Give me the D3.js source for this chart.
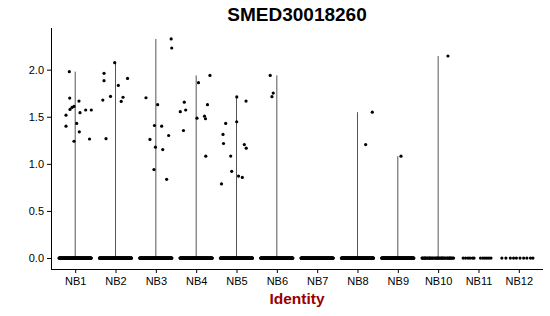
<!DOCTYPE html>
<html>
<head>
<meta charset="utf-8">
<script src="https://cdn.jsdelivr.net/npm/d3@7"></script>
<style>
  body { margin: 0; background: #fff; }
  svg { display: block; font-family: "Liberation Sans", Arial, Helvetica, sans-serif; }
  .axis path, .axis line { stroke: #000; }
  .axis text { fill: #000; font-size: 11px; }
</style>
</head>
<body>
<svg width="550" height="316"></svg>
<script>
// groups shown on the x axis
const groups = ["NB1", "NB2", "NB3", "NB4", "NB5", "NB6", "NB7", "NB8", "NB9", "NB10", "NB11", "NB12"];
const yTicks = [0, 0.5, 1.0, 1.5, 2.0];

// expressing cells: [group, jitter (in group widths), expression value]
const expressed = [
  ["NB1", -0.146, 1.979], ["NB1", -0.136, 1.698], ["NB1", -0.228, 1.517], ["NB1", -0.129, 1.578],
  ["NB1", -0.079, 1.599], ["NB1", -0.030, 1.610], ["NB1", 0.094, 1.666], ["NB1", 0.119, 1.543],
  ["NB1", 0.260, 1.572], ["NB1", 0.399, 1.572], ["NB1", -0.228, 1.400], ["NB1", 0.037, 1.429],
  ["NB1", 0.102, 1.340], ["NB1", -0.030, 1.240], ["NB1", 0.355, 1.264],
  ["NB2", -0.285, 1.961], ["NB2", -0.285, 1.883], ["NB2", -0.020, 2.074], ["NB2", 0.069, 1.833],
  ["NB2", 0.298, 1.907], ["NB2", -0.315, 1.677], ["NB2", -0.124, 1.716], ["NB2", 0.186, 1.707],
  ["NB2", 0.141, 1.663], ["NB2", -0.236, 1.267],
  ["NB3", -0.245, 1.702], ["NB3", 0.045, 1.628], ["NB3", -0.035, 1.407], ["NB3", 0.144, 1.400],
  ["NB3", -0.146, 1.259], ["NB3", -0.010, 1.177], ["NB3", 0.317, 1.301], ["NB3", 0.171, 1.152],
  ["NB3", -0.047, 0.939], ["NB3", 0.268, 0.836], ["NB3", 0.379, 2.326], ["NB3", 0.394, 2.230],
  ["NB4", -0.295, 1.655], ["NB4", -0.394, 1.554], ["NB4", -0.260, 1.572], ["NB4", -0.315, 1.354],
  ["NB4", 0.057, 1.862], ["NB4", 0.342, 1.939], ["NB4", 0.020, 1.485], ["NB4", 0.280, 1.628],
  ["NB4", 0.206, 1.506], ["NB4", 0.231, 1.479], ["NB4", 0.238, 1.081],
  ["NB5", -0.268, 1.429], ["NB5", -0.335, 1.312], ["NB5", -0.322, 1.216], ["NB5", 0.007, 1.711],
  ["NB5", 0.236, 1.666], ["NB5", 0.005, 1.447], ["NB5", -0.144, 1.083], ["NB5", 0.193, 1.205],
  ["NB5", 0.241, 1.166], ["NB5", -0.119, 0.921], ["NB5", 0.050, 0.870], ["NB5", 0.144, 0.856],
  ["NB5", -0.372, 0.787],
  ["NB6", -0.164, 1.939], ["NB6", -0.089, 1.751], ["NB6", -0.121, 1.713],
  ["NB8", 0.367, 1.549], ["NB8", 0.203, 1.205],
  ["NB9", 0.079, 1.081],
  ["NB10", 0.243, 2.145]
];

// cells at zero: estimated counts for the crowded groups
const zeroCounts = [150, 150, 150, 150, 150, 150, 150, 150, 150, 40, 0, 0];
const zeroJitterNB11 = [-0.38, -0.32, -0.26, -0.21, -0.15, -0.11, 0.05, 0.11, 0.16, 0.21, 0.26, 0.31];
const zeroJitterNB12 = [-0.42, -0.32, -0.21, -0.13, -0.06, 0.03, 0.12, 0.20, 0.29, 0.35];

const svg = d3.select("svg");
const margin = { left: 51, right: 7, top: 28, bottom: 47 };
const W = 550, H = 316;

const x = d3.scalePoint()
  .domain(groups)
  .range([margin.left, W - margin.right])
  .padding(0.6);

const vmax = d3.max(expressed, d => d[2]);
const pad = vmax * 0.05;
const y = d3.scaleLinear()
  .domain([-pad, vmax + pad])
  .range([H - margin.bottom, margin.top]);

// zero points (jitter spread deterministically across +-0.4)
const zeros = [];
zeroCounts.forEach((n, gi) => {
  for (let k = 0; k < n; k++) {
    zeros.push([groups[gi], ((k * 0.6180339) % 1) * 0.8 - 0.4, 0]);
  }
});
zeroJitterNB11.forEach(j => zeros.push(["NB11", j, 0]));
zeroJitterNB12.forEach(j => zeros.push(["NB12", j, 0]));

// violins collapse to thin lines from 0 to the group max
const vio = groups.map(g => {
  const vals = expressed.filter(d => d[0] === g).map(d => d[2]);
  return { g, max: vals.length ? d3.max(vals) : 0 };
}).filter(d => d.max > 0);

svg.append("g").selectAll("line")
  .data(vio)
  .enter().append("line")
  .attr("x1", d => x(d.g))
  .attr("x2", d => x(d.g))
  .attr("y1", y(0))
  .attr("y2", d => y(d.max))
  .attr("stroke", "#555")
  .attr("stroke-width", 1);

const pts = zeros.concat(expressed);
svg.append("g").selectAll("circle")
  .data(pts)
  .enter().append("circle")
  .attr("cx", d => x(d[0]) + d[1] * x.step())
  .attr("cy", d => y(d[2]))
  .attr("r", 1.6)
  .attr("fill", "#000");

// axes
svg.append("g")
  .attr("class", "axis")
  .attr("transform", `translate(${margin.left},0)`)
  .call(d3.axisLeft(y).tickValues(yTicks).tickFormat(d3.format(".1f")).tickSizeOuter(0).tickSize(4).tickPadding(3))
  .call(g => g.select(".domain").attr("d", `M0.5,${margin.top}V${H - margin.bottom}`));

svg.append("g")
  .attr("class", "axis")
  .attr("transform", `translate(0,${H - margin.bottom})`)
  .call(d3.axisBottom(x).tickSizeOuter(0).tickSize(4).tickPadding(4))
  .call(g => g.select(".domain").attr("d", `M${margin.left},0.5H${W - margin.right}`));

// title and axis label
svg.append("text")
  .attr("x", (margin.left + W - margin.right) / 2)
  .attr("y", 21)
  .attr("text-anchor", "middle")
  .attr("font-weight", "bold")
  .attr("font-size", 19)
  .text("SMED30018260");

svg.append("text")
  .attr("x", (margin.left + W - margin.right) / 2)
  .attr("y", 304)
  .attr("text-anchor", "middle")
  .attr("font-weight", "bold")
  .attr("font-size", 15.5)
  .attr("fill", "#990000")
  .text("Identity");
</script>
</body>
</html>
